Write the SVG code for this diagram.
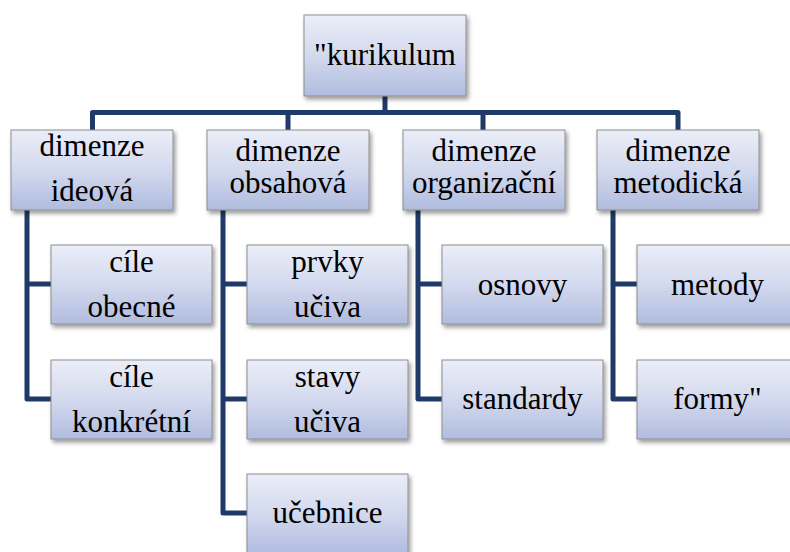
<svg xmlns="http://www.w3.org/2000/svg" width="790" height="552" viewBox="0 0 790 552">
<defs>
<linearGradient id="g" x1="0" y1="0" x2="0" y2="1">
<stop offset="0" stop-color="#EBEEF8"/>
<stop offset="0.5" stop-color="#D3D9EE"/>
<stop offset="1" stop-color="#B0BCDF"/>
</linearGradient>
<filter id="sh" x="-10%" y="-10%" width="125%" height="130%">
<feDropShadow dx="2" dy="3" stdDeviation="2" flood-color="#000" flood-opacity="0.4"/>
</filter>
</defs>
<style>
.box{fill:url(#g);stroke:#8E8E8E;stroke-width:1;filter:url(#sh)}
.c{fill:none;stroke:#1F3A68;stroke-width:5;stroke-linejoin:round;stroke-linecap:butt}
</style>
<rect width="790" height="552" fill="#fff"/>
<g id="connectors">
<path class="c" d="M385,96 V112.5"/>
<path class="c" d="M92.5,130 V112.5 H678 V130"/>
<path class="c" d="M288,112.5 V130"/>
<path class="c" d="M483,112.5 V130"/>
<path class="c" d="M27,210 V399 H51"/>
<path class="c" d="M27,284 H51"/>
<path class="c" d="M223,210 V513 H247"/>
<path class="c" d="M223,284 H247"/>
<path class="c" d="M223,399 H247"/>
<path class="c" d="M418,210 V399 H442"/>
<path class="c" d="M418,284 H442"/>
<path class="c" d="M613,210 V399 H637"/>
<path class="c" d="M613,284 H637"/>
</g>
<g font-family="'Liberation Serif', 'Times New Roman', serif" font-size="31" text-anchor="middle" fill="#000">
<g id="n-kurikulum"><rect class="box" x="304" y="15" width="162" height="81"/><text x="385" y="65">"kurikulum</text></g>
<g id="n-ideova"><rect class="box" x="11" y="130" width="162" height="80"/><text x="92" y="156">dimenze</text><text x="92" y="201">ideová</text></g>
<g id="n-obsahova"><rect class="box" x="207" y="130" width="162" height="80"/><text x="288" y="161">dimenze</text><text x="288" y="193">obsahová</text></g>
<g id="n-organizacni"><rect class="box" x="403" y="130" width="162" height="80"/><text x="484" y="161">dimenze</text><text x="484" y="193">organizační</text></g>
<g id="n-metodicka"><rect class="box" x="597" y="130" width="162" height="80"/><text x="678" y="161">dimenze</text><text x="678" y="193">metodická</text></g>
<g id="n-cile-obecne"><rect class="box" x="51" y="245" width="161" height="79"/><text x="131.5" y="272">cíle</text><text x="131.5" y="317">obecné</text></g>
<g id="n-cile-konkretni"><rect class="box" x="51" y="360" width="161" height="79"/><text x="131.5" y="387">cíle</text><text x="131.5" y="432">konkrétní</text></g>
<g id="n-prvky"><rect class="box" x="247" y="245" width="161" height="79"/><text x="327.5" y="272">prvky</text><text x="327.5" y="317">učiva</text></g>
<g id="n-stavy"><rect class="box" x="247" y="360" width="161" height="79"/><text x="327.5" y="387">stavy</text><text x="327.5" y="432">učiva</text></g>
<g id="n-ucebnice"><rect class="box" x="247" y="474" width="161" height="79"/><text x="327.5" y="523">učebnice</text></g>
<g id="n-osnovy"><rect class="box" x="442" y="245" width="161" height="79"/><text x="522.5" y="295">osnovy</text></g>
<g id="n-standardy"><rect class="box" x="442" y="360" width="161" height="79"/><text x="522.5" y="409">standardy</text></g>
<g id="n-metody"><rect class="box" x="637" y="245" width="161" height="79"/><text x="717.5" y="295">metody</text></g>
<g id="n-formy"><rect class="box" x="637" y="360" width="161" height="79"/><text x="717.5" y="409">formy"</text></g>
</g>
</svg>
